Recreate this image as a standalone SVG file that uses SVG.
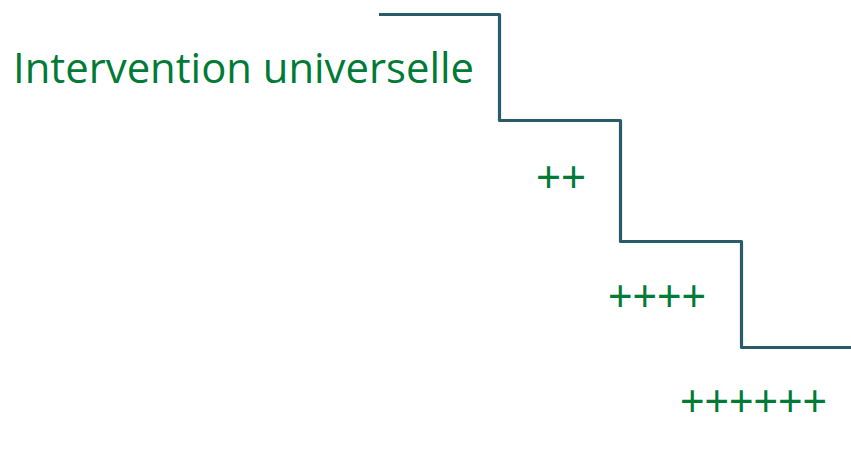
<svg xmlns="http://www.w3.org/2000/svg" width="851" height="449" viewBox="0 0 851 449">
  <style>
    .step { fill: none; stroke: #2A5B6A; stroke-width: 3.2; stroke-linejoin: round; }
    .lbl { fill: #007A37; font-family: "Open Sans", "Noto Sans", sans-serif; }
    .plus { fill: #007A37; font-family: "Liberation Sans", Arial, sans-serif; font-size: 44px; }
  </style>
  <rect width="851" height="449" fill="#ffffff"/>
  <g id="connectors">
    <path class="step" d="M379,14.5 H499.5 V120.5 H620.5 V241.5 H741.5 V347.5 H851"/>
  </g>
  <g id="level-universal">
    <text class="lbl" x="13" y="83" font-size="42" textLength="461" lengthAdjust="spacingAndGlyphs">Intervention universelle</text>
  </g>
  <g id="level-2">
    <text class="plus" x="536" y="191.5" textLength="50" lengthAdjust="spacingAndGlyphs">++</text>
  </g>
  <g id="level-4">
    <text class="plus" x="608" y="311" textLength="98" lengthAdjust="spacingAndGlyphs">++++</text>
  </g>
  <g id="level-6">
    <text class="plus" x="680" y="416" textLength="147" lengthAdjust="spacingAndGlyphs">++++++</text>
  </g>
</svg>
